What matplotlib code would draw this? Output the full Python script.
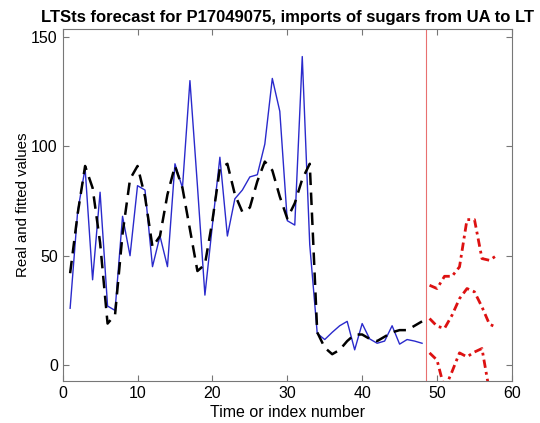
import numpy as np
import matplotlib
matplotlib.use('Agg')
import matplotlib.pyplot as plt

plt.rcParams['font.family'] = ['Liberation Sans', 'DejaVu Sans']

# observed series (t = 1..48)
real = [26, 70, 90, 39, 79, 27, 25, 68, 50, 82, 80, 45, 59, 45, 92, 81, 130, 82, 32, 64,
        95, 59, 76, 80, 86, 87, 101, 131, 116, 66, 64, 141, 55, 14.5, 11.7, 15, 18, 20,
        7, 19, 12, 10, 11, 18, 9.6, 11.7, 11, 10]
# fitted values
fitted = [42, 69, 91, 81, 56, 19, 23, 60, 85, 91, 77, 54, 59, 78, 91, 81, 62, 43, 46, 66,
          90, 92, 78, 70, 72, 84, 93, 89, 77, 67, 74, 85, 92, 15, 8, 5, 7, 11, 14, 14,
          12, 11, 13, 15, 16, 16, 18, 20]
# forecast (t = 49..58) with bands
fc_upper = [36.5, 35, 40.6, 40.6, 44.9, 66.5, 66.5, 48.7, 47.9, 50.2]
fc_mid = [21.3, 17.8, 16.8, 22.8, 30.4, 35, 33.5, 26.6, 18.7, 17.2]
fc_lower = [5.6, 2.3, -11, -3, 5.6, 3.8, 6, 7.6, -12, -10]

t_obs = np.arange(1, len(real) + 1)
t_fc = np.arange(49, 49 + len(fc_mid))
split = 48.5

fig = plt.figure(figsize=(5.4, 4.23), dpi=100)
ax = fig.add_axes([0.116, 0.099, 0.832, 0.832])

ax.plot(t_obs, real, color='#2a2acc', lw=1.0)
ax.plot(t_obs, fitted, color='black', lw=1.8, linestyle=(0, (5, 3)))
ax.axvline(split, color='#e87070', lw=0.8)
for fc in (fc_upper, fc_mid, fc_lower):
    ax.plot(t_fc, fc, color='#dd1111', lw=2.0, linestyle=(0, (3, 1.5, 1, 1.5)))

ax.set_xlim(0, 60)
ax.set_ylim(-7.3, 153.5)
ax.set_xticks([0, 10, 20, 30, 40, 50, 60])
ax.set_yticks([0, 50, 100, 150])
ax.tick_params(direction='in', top=True, right=True, length=4, labelsize=11.5,
               color='#777777', width=0.8)
for s in ax.spines.values():
    s.set_color('#777777')
    s.set_linewidth(0.8)

ax.set_title('LTSts forecast for P17049075, imports of sugars from UA to LT',
             fontsize=12, fontweight='bold', pad=5)
ax.set_xlabel('Time or index number', fontsize=11.5, labelpad=3)
ax.set_ylabel('Real and fitted values', fontsize=10.8, labelpad=0.5)

fig.savefig('out.png', dpi=100)
